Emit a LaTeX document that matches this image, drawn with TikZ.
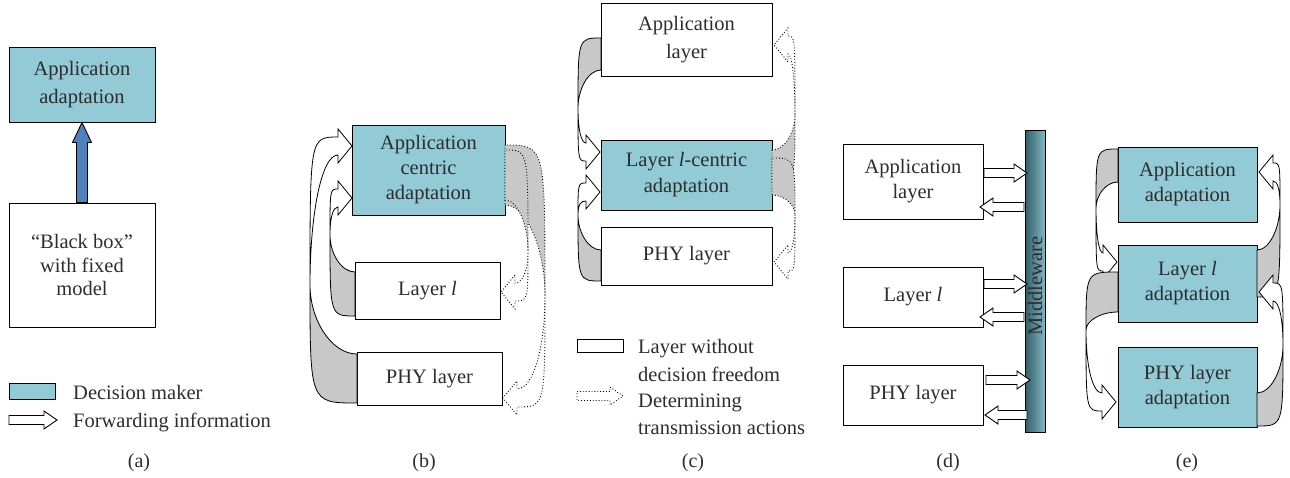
\documentclass[tikz,border=0pt]{standalone}
\usepackage{fontspec}
\setmainfont{Liberation Serif}
\usetikzlibrary{calc}
\definecolor{teal1}{RGB}{146,202,214}
\definecolor{txt}{RGB}{45,45,45}
\definecolor{arrgray}{RGB}{200,200,200}
\definecolor{blue1}{RGB}{79,129,189}
\definecolor{mwdark}{RGB}{50,95,105}
\definecolor{mwlight}{RGB}{130,182,194}
\tikzset{
  box/.style={draw=black, line width=1pt, text=txt, align=center, inner sep=0pt,
    font=\fontsize{20.5}{25}\selectfont},
  dm/.style={box, fill=teal1},
  lbl/.style={text=txt, inner sep=0pt, anchor=base west, font=\fontsize{20.5}{25}\selectfont},
  captxt/.style={text=txt, inner sep=0pt, anchor=base, font=\fontsize{20}{24}\selectfont},
  cres/.style={fill=arrgray, draw=black, line width=0.8pt},
  band/.style={fill=white, draw=black, line width=0.8pt},
  fwdst/.style={fill=white, draw=black, line width=0.9pt},
  bluearr/.style={fill=blue1, draw=black, line width=0.9pt},
}
% curved 3D arrow: #1 sx, #2 y near, #3 y far, #4 bulge x, #5 twist y, #6 tip x, #7 tip y, #8 s, #9 d
\newcommand\carr[9]{%
  \path[cres] (#1,#2) .. controls ({#4+0.45*(#1-#4)},#2) and (#4,{#5+0.5*(#2-#5)}) .. (#4,#5)
     .. controls (#4,#3) .. (#1,#3) -- cycle;
  \path[band] (#4,#5) .. controls (#4,{#7+(#9)*9}) .. ({#6-(#8)*14},{#7+(#9)*9})
     -- ({#6-(#8)*14},{#7+(#9)*17}) -- (#6,#7) -- ({#6-(#8)*14},{#7-(#9)*17})
     -- ({#6-(#8)*14},{#7-(#9)*9})
     .. controls ({#4+0.4*(#6-(#8)*14-#4)},{#7-(#9)*9}) and (#4,{0.5*(#5+#7)}) .. (#4,#5) -- cycle;
}
% open block arrow: #1 x start, #2 x tip, #3 y, #4 direction (+1 right, -1 left)
\newcommand\fwd[4]{%
  \path[fwdst] (#1,{#3-4.5}) -- ({#2-(#4)*13},{#3-4.5}) -- ({#2-(#4)*13},{#3-9}) -- (#2,#3)
    -- ({#2-(#4)*13},{#3+9}) -- ({#2-(#4)*13},{#3+4.5}) -- (#1,{#3+4.5}) -- cycle;
}
\begin{document}
\begin{tikzpicture}[x=1pt,y=-1pt]
\useasboundingbox (0,0) rectangle (1290,477);

% ---------------- (a)
\node[dm, minimum width=146, minimum height=75, font=\fontsize{20.5}{28}\selectfont] (aa) at (82,84.5) {Application\\adaptation};
\node[box, minimum width=146, minimum height=124, font=\fontsize{20.5}{23.5}\selectfont] (bb) at (82,265) {“Black box”\\with fixed\\model};
\path[bluearr] ($(bb.north)+(-5.5,0)$) -- ($(aa.south)+(-5.5,20)$) -- ($(aa.south)+(-9.5,20)$)
   -- (aa.south) -- ($(aa.south)+(9.5,20)$) -- ($(aa.south)+(5.5,20)$) -- ($(bb.north)+(5.5,0)$) -- cycle;
\node[dm, minimum width=46, minimum height=16] (lgdm) at (32,391) {};
\node[lbl] (lgdmt) at (73,399) {Decision maker};
\fwd{9}{57}{420}{1}
\node[lbl] (lgfwt) at (73,427) {Forwarding information};
\node[captxt] (capa) at (139,467) {(a)};

% ---------------- (b)
\node[dm, minimum width=153, minimum height=90] (bapp) at (428.5,170) {Application\\centric\\adaptation};
\node[box, minimum width=145, minimum height=57] (bl) at (427.5,290.5) {Layer \textit{l}};
\node[box, minimum width=145, minimum height=53] (bphy) at (429.5,378.5) {PHY layer};
\carr{357}{354}{403}{310}{285}{352}{146}{1}{-1}
\carr{355}{272}{316}{330}{235}{352}{198}{1}{-1}
\begin{scope}[cres/.style={fill=arrgray, draw=black, line width=0.9pt, dotted},
              band/.style={draw=black, line width=0.9pt, dotted}]
\carr{505}{205}{145}{545}{295}{503}{398}{-1}{1}
\carr{505}{200}{150}{528}{250}{501}{292}{-1}{1}
\end{scope}
\node[captxt] (capb) at (424,467) {(b)};

% ---------------- (c)
\node[box, minimum width=171, minimum height=73, font=\fontsize{20.5}{28}\selectfont] (capp) at (686.5,39.5) {Application\\layer};
\node[dm, minimum width=171, minimum height=70, font=\fontsize{20.5}{26}\selectfont] (cl) at (686.5,175) {Layer \textit{l}-centric\\adaptation};
\node[box, minimum width=171, minimum height=58] (cphy) at (686.5,256) {PHY layer};
\carr{601}{70}{38}{578}{108}{600}{152}{1}{1}
\carr{601}{250}{281}{578}{215}{600}{192}{1}{-1}
\begin{scope}[cres/.style={fill=arrgray, draw=black, line width=0.9pt, dotted},
              band/.style={draw=black, line width=0.9pt, dotted}]
\carr{772}{150}{182}{795}{115}{774}{45}{-1}{-1}
\carr{772}{195}{158}{795}{215}{774}{262}{-1}{1}
\end{scope}
\node[box, minimum width=46, minimum height=13] (lgly) at (600,345.5) {};
\node[lbl] (lglyt1) at (638,353) {Layer without};
\node[lbl] (lglyt2) at (638,381) {decision freedom};
\begin{scope}[fwdst/.style={draw=black, line width=0.9pt, dotted}]
\fwd{577}{623}{396}{1}
\end{scope}
\node[lbl] (lgdt1) at (638,407) {Determining};
\node[lbl] (lgdt2) at (638,434) {transmission actions};
\node[captxt] (capc) at (693,467) {(c)};

% ---------------- (d)
\node[box, minimum width=140, minimum height=75] (dapp) at (913,181.5) {Application\\layer};
\node[box, minimum width=140, minimum height=60] (dl) at (913,297) {Layer \textit{l}};
\node[box, minimum width=140, minimum height=60] (dphy) at (913,395) {PHY layer};
\node[draw=black, line width=1pt, minimum width=20, minimum height=302, inner sep=0pt,
      left color=mwdark, right color=mwlight] (mw) at (1035,281) {};
\node[rotate=90, text=txt, inner sep=0pt, font=\fontsize{20.5}{25}\selectfont] (mwt) at (1035,286) {Middleware};
\fwd{984}{1027}{173}{1}
\fwd{1024}{980}{207}{-1}
\fwd{984}{1027}{284}{1}
\fwd{1024}{980}{317}{-1}
\fwd{986}{1030}{380}{1}
\fwd{1027}{985}{415}{-1}
\node[captxt] (capd) at (948,467) {(d)};

% ---------------- (e)
\node[dm, minimum width=139, minimum height=75] (eapp) at (1187.5,184.5) {Application\\adaptation};
\node[dm, minimum width=139, minimum height=77] (el) at (1187.5,283.5) {Layer \textit{l}\\adaptation};
\node[dm, minimum width=139, minimum height=80] (ephy) at (1187.5,387) {PHY layer\\adaptation};
\carr{1118}{182}{149}{1096}{208}{1117}{262}{1}{1}
\carr{1118}{312}{272}{1086}{330}{1116}{402}{1}{1}
\carr{1257}{250}{297}{1280}{205}{1259}{172}{-1}{-1}
\carr{1257}{393}{426}{1283}{345}{1259}{292}{-1}{-1}
\node[captxt] (cape) at (1187,467) {(e)};
\end{tikzpicture}
\end{document}
